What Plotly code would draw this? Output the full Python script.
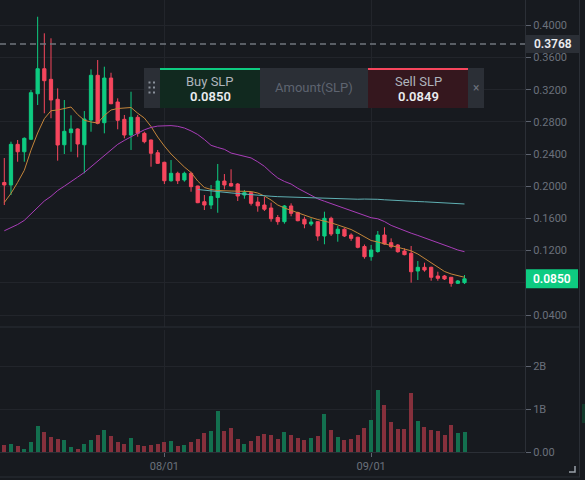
import pandas as pd
import plotly.graph_objects as go

# ---------------- data ----------------
dates = pd.date_range("2021-07-08", periods=70, freq="D")

open_ = [0.2047, 0.2016, 0.2521, 0.2429, 0.2584, 0.3150, 0.3461, 0.3329, 0.3081, 0.2516,
         0.2666, 0.2712, 0.2516, 0.2823, 0.3379, 0.2790, 0.3345, 0.3047, 0.2832, 0.2637,
         0.2857, 0.2658, 0.2575, 0.2417, 0.2298, 0.2069, 0.2161, 0.2078, 0.2161, 0.2003,
         0.1808, 0.1767, 0.1860, 0.2065, 0.2034, 0.2028, 0.1891, 0.1920, 0.1804, 0.1767,
         0.1730, 0.1612, 0.1560, 0.1755, 0.1674, 0.1589, 0.1531, 0.1560, 0.1382, 0.1602,
         0.1413, 0.1466, 0.1394, 0.1366, 0.1251, 0.1125, 0.1189, 0.1394, 0.1299, 0.1270,
         0.1195, 0.1167, 0.0947, 0.0993, 0.0993, 0.0885, 0.0885, 0.0869, 0.0794, 0.0802]
high = [0.2351, 0.2554, 0.2575, 0.2608, 0.3196, 0.4107, 0.3901, 0.3839, 0.3217, 0.3072,
        0.2882, 0.2720, 0.2935, 0.3453, 0.3569, 0.3486, 0.3411, 0.3093, 0.2886, 0.3175,
        0.2886, 0.2678, 0.2580, 0.2451, 0.2305, 0.2326, 0.2181, 0.2181, 0.2181, 0.2008,
        0.1891, 0.2016, 0.2277, 0.2152, 0.2211, 0.2041, 0.1954, 0.1925, 0.1867, 0.1867,
        0.1796, 0.1643, 0.1767, 0.1788, 0.1684, 0.1622, 0.1602, 0.1565, 0.1684, 0.1622,
        0.1506, 0.1478, 0.1415, 0.1373, 0.1276, 0.1270, 0.1444, 0.1490, 0.1353, 0.1282,
        0.1229, 0.1258, 0.1071, 0.1050, 0.1000, 0.0938, 0.0897, 0.0872, 0.0835, 0.0897]
low = [0.1767, 0.1891, 0.2305, 0.2305, 0.2575, 0.3010, 0.2907, 0.2845, 0.2318, 0.2401,
       0.2429, 0.2360, 0.2161, 0.2678, 0.2770, 0.2658, 0.3020, 0.2708, 0.2596, 0.2451,
       0.2616, 0.2534, 0.2243, 0.2277, 0.2028, 0.2057, 0.2028, 0.2057, 0.1932, 0.1790,
       0.1705, 0.1717, 0.1671, 0.1962, 0.1995, 0.1817, 0.1845, 0.1761, 0.1684, 0.1693,
       0.1560, 0.1522, 0.1535, 0.1627, 0.1565, 0.1478, 0.1506, 0.1323, 0.1279, 0.1382,
       0.1311, 0.1369, 0.1322, 0.1229, 0.1100, 0.1075, 0.1174, 0.1274, 0.1229, 0.1174,
       0.1142, 0.0802, 0.0835, 0.0938, 0.0826, 0.0826, 0.0835, 0.0752, 0.0785, 0.0785]
close = [0.2016, 0.2521, 0.2429, 0.2596, 0.3163, 0.3461, 0.3312, 0.3072, 0.2513, 0.2683,
         0.2712, 0.2525, 0.2836, 0.3379, 0.2782, 0.3345, 0.3026, 0.2820, 0.2637, 0.2857,
         0.2658, 0.2554, 0.2410, 0.2285, 0.2069, 0.2161, 0.2069, 0.2161, 0.1995, 0.1796,
         0.1767, 0.1873, 0.2065, 0.2016, 0.2003, 0.1879, 0.1920, 0.1788, 0.1757, 0.1715,
         0.1597, 0.1560, 0.1755, 0.1664, 0.1572, 0.1531, 0.1556, 0.1382, 0.1602, 0.1407,
         0.1466, 0.1382, 0.1353, 0.1241, 0.1125, 0.1208, 0.1394, 0.1282, 0.1249, 0.1187,
         0.1150, 0.0938, 0.0993, 0.0959, 0.0869, 0.0856, 0.0848, 0.0794, 0.0823, 0.0850]
volume_b = [0.17, 0.186, 0.13, 0.077, 0.233, 0.61, 0.456, 0.34, 0.293, 0.286,
            0.107, 0.077, 0.193, 0.286, 0.387, 0.519, 0.372, 0.24, 0.193, 0.333,
            0.154, 0.147, 0.17, 0.177, 0.24, 0.263, 0.147, 0.17, 0.24, 0.31,
            0.433, 0.50, 0.945, 0.495, 0.55, 0.293, 0.193, 0.247, 0.38, 0.41,
            0.387, 0.30, 0.468, 0.393, 0.336, 0.286, 0.326, 0.38, 0.89, 0.52,
            0.35, 0.27, 0.31, 0.387, 0.565, 0.744, 1.433, 1.084, 0.698, 0.542,
            0.526, 1.379, 0.72, 0.572, 0.502, 0.488, 0.402, 0.635, 0.442, 0.465]
ma7 = [0.1799, 0.1911, 0.2048, 0.2198, 0.2448, 0.2662, 0.2840, 0.2939, 0.2948, 0.2966,
       0.2985, 0.2892, 0.2820, 0.2799, 0.2786, 0.2879, 0.2948, 0.2966, 0.2969, 0.2979,
       0.2908, 0.2848, 0.2743, 0.2612, 0.2500, 0.2401, 0.2320, 0.2239, 0.2171, 0.2065,
       0.1985, 0.1960, 0.1947, 0.1941, 0.1941, 0.1939, 0.1937, 0.1935, 0.1916, 0.1879,
       0.1829, 0.1767, 0.1730, 0.1699, 0.1668, 0.1637, 0.1612, 0.1587, 0.1568, 0.1546,
       0.1519, 0.1494, 0.1463, 0.1419, 0.1369, 0.1326, 0.1307, 0.1286, 0.1266, 0.1245,
       0.1227, 0.1198, 0.1158, 0.1102, 0.1046, 0.0993, 0.0941, 0.0910, 0.0890, 0.0869]
ma25 = [0.1447, 0.1484, 0.1525, 0.1576, 0.1655, 0.1739, 0.1817, 0.1875, 0.1947, 0.2001,
        0.2053, 0.2114, 0.2172, 0.2242, 0.2314, 0.2388, 0.2459, 0.2521, 0.2570, 0.2610,
        0.2659, 0.2702, 0.2731, 0.2748, 0.2750, 0.2754, 0.2745, 0.2724, 0.2688, 0.2643,
        0.2581, 0.2509, 0.2482, 0.2459, 0.2413, 0.2395, 0.2370, 0.2352, 0.2304, 0.2248,
        0.2171, 0.2103, 0.2060, 0.2028, 0.1975, 0.1929, 0.1885, 0.1844, 0.1814, 0.1785,
        0.1760, 0.1732, 0.1700, 0.1665, 0.1639, 0.1609, 0.1596, 0.1561, 0.1514, 0.1480,
        0.1447, 0.1417, 0.1389, 0.1361, 0.1331, 0.1301, 0.1270, 0.1239, 0.1208, 0.1187]
ma99_start = 29
ma99 = [0.1960, 0.1950, 0.1940, 0.1932, 0.1925, 0.1917, 0.1910, 0.1902, 0.1894, 0.1888,
        0.1882, 0.1876, 0.1871, 0.1868, 0.1865, 0.1862, 0.1858, 0.1854, 0.1850, 0.1846,
        0.1842, 0.1839, 0.1838, 0.1838, 0.1839, 0.1841, 0.1842, 0.1838, 0.1832, 0.1826,
        0.1820, 0.1816, 0.1813, 0.1810, 0.1807, 0.1803, 0.1798, 0.1794, 0.1790, 0.1785,
        0.1780]

price_ticks = [0.04, 0.08, 0.12, 0.16, 0.20, 0.24, 0.28, 0.32, 0.36, 0.40]
price_ticklabels = ["0.0400", "", "0.1200", "0.1600", "0.2000", "0.2400", "0.2800",
                    "0.3200", "0.3600", "0.4000"]   # 0.0800 sits under the last-price tag
vol_ticks = [0, 1, 2]
vol_ticklabels = ["0.00", "1B", "2B"]
date_ticks = ["2021-08-01", "2021-09-01"]
date_ticklabels = ["08/01", "09/01"]
last_price = 0.0850
marker_price = 0.3768
buy_label, buy_price = "Buy SLP", "0.0850"
sell_label, sell_price = "Sell SLP", "0.0849"
amount_label = "Amount(SLP)"

# ---------------- style ----------------
BG = "#171a1f"
GRID = "#22252b"
BORDER = "#2b2f36"
TXT = "#6b717c"
UP = "#0ecb81"
DOWN = "#f6465d"
UP_VOL = "#13704f"
DOWN_VOL = "#86303c"
FONT = "Roboto"

PW, PH = 525, 452          # plot area size in px
def X(px):
    return px / PW
def Y(py):
    return (PH - py) / PH

price_range = [0.0251, 0.4315]
ppx = (price_range[1] - price_range[0]) / 327.0   # price per pixel

day = pd.Timedelta(days=1)
x_range = [dates[0] - 0.645 * day, dates[0] + 78.07 * day]

fig = go.Figure()

vol_colors = [UP_VOL if c >= o else DOWN_VOL for o, c in zip(open_, close)]
fig.add_trace(go.Bar(x=dates, y=volume_b, marker=dict(color=vol_colors, line=dict(width=0)),
                     width=0.6 * 86400000, xaxis="x", yaxis="y2", hoverinfo="skip"))

fig.add_trace(go.Candlestick(
    x=dates, open=open_, high=high, low=low, close=close,
    increasing=dict(line=dict(color=UP, width=1), fillcolor=UP),
    decreasing=dict(line=dict(color=DOWN, width=1), fillcolor=DOWN),
    whiskerwidth=0, xaxis="x", yaxis="y", hoverinfo="skip"))

fig.add_trace(go.Scatter(x=dates, y=ma7, mode="lines", line=dict(color="#c4853a", width=1),
                         xaxis="x", yaxis="y", hoverinfo="skip"))
fig.add_trace(go.Scatter(x=dates, y=ma25, mode="lines", line=dict(color="#a93db8", width=1),
                         xaxis="x", yaxis="y", hoverinfo="skip"))
fig.add_trace(go.Scatter(x=dates[ma99_start:], y=ma99, mode="lines",
                         line=dict(color="#5fb0b3", width=1),
                         xaxis="x", yaxis="y", hoverinfo="skip"))

shapes = []
annotations = []

# panel separators / borders
shapes += [
    dict(type="line", xref="paper", yref="paper", x0=X(0), x1=X(579), y0=Y(327), y1=Y(327),
         line=dict(color=BORDER, width=1), layer="above"),
    dict(type="line", xref="paper", yref="paper", x0=X(0), x1=X(580), y0=Y(477), y1=Y(477),
         line=dict(color=BORDER, width=1), layer="above"),
    dict(type="line", xref="paper", yref="paper", x0=X(579.5), x1=X(579.5), y0=Y(0), y1=Y(477),
         line=dict(color=BORDER, width=1), layer="above"),
    dict(type="line", xref="paper", yref="paper", x0=X(525.5), x1=X(525.5), y0=Y(0), y1=Y(452),
         line=dict(color=BORDER, width=1), layer="above"),
    dict(type="rect", xref="paper", yref="paper", x0=X(582), x1=X(586), y0=Y(423), y1=Y(404),
         fillcolor="#123a2c", line=dict(width=0), layer="above"),
    dict(type="path", xref="paper", yref="paper",
         path=f"M {X(569)},{Y(472)} L {X(575)},{Y(472)} L {X(575)},{Y(466)}",
         line=dict(color="#9aa1ab", width=1.5), layer="above"),
]

# dashed marker line + label
shapes.append(dict(type="line", xref="paper", yref="y", x0=0, x1=1, y0=marker_price, y1=marker_price,
                   line=dict(color="#70757e", width=1.5, dash="6px,4px"), layer="above"))
shapes.append(dict(type="rect", xref="paper", yref="y", x0=X(526), x1=X(579),
                   y0=marker_price - 9 * ppx, y1=marker_price + 9 * ppx,
                   fillcolor="#2b2f36", line=dict(width=0), layer="above"))
annotations.append(dict(xref="paper", yref="y", x=X(552.5), y=marker_price, text=f"{marker_price:.4f}",
                        xanchor="center", yanchor="middle", showarrow=False,
                        font=dict(family=FONT, size=12, color="#eaecef", weight=600)))

# current price label
shapes.append(dict(type="rect", xref="paper", yref="y", x0=X(526), x1=X(578),
                   y0=last_price - 9.5 * ppx, y1=last_price + 9.5 * ppx,
                   fillcolor=UP, line=dict(width=0), layer="above"))
annotations.append(dict(xref="paper", yref="y", x=X(552), y=last_price, text=f"{last_price:.4f}",
                        xanchor="center", yanchor="middle", showarrow=False,
                        font=dict(family=FONT, size=12, color="#ffffff", weight=600)))

# order widget
def box(x0, x1, y0, y1, color):
    return dict(type="rect", xref="paper", yref="paper", x0=X(x0), x1=X(x1), y0=Y(y1), y1=Y(y0),
                fillcolor=color, line=dict(width=0), layer="above")

shapes += [
    box(144, 160, 68, 108, "#2b2f36"),
    box(160, 260, 68, 108, "#11291f"),
    box(160, 260, 68, 70, UP),
    box(260, 368, 68, 108, "#2b2f36"),
    box(368, 468, 68, 108, "#35171e"),
    box(368, 468, 68, 70, DOWN),
    box(468, 484, 68, 108, "#2b2f36"),
]
for gx in (149.5, 154):
    for gy in (82.5, 87.5, 92.5):
        shapes.append(box(gx - 1, gx + 1, gy - 1, gy + 1, "#8a919b"))

def txt(px, py, s, size, color, weight=400):
    annotations.append(dict(xref="paper", yref="paper", x=X(px), y=Y(py), text=s, showarrow=False,
                            xanchor="center", yanchor="middle",
                            font=dict(family=FONT, size=size, color=color, weight=weight)))

txt(210, 81, buy_label, 13, "#aeb4bc")
txt(210, 97, buy_price, 13, "#eaecef", 600)
txt(314, 88, amount_label, 13, "#5e6470")
txt(418, 81, sell_label, 13, "#aeb4bc")
txt(418, 97, sell_price, 13, "#eaecef", 600)
txt(476, 88, "×", 12, "#6b717c")

fig.update_layout(
    width=585, height=480,
    margin=dict(l=0, r=60, t=0, b=28),
    paper_bgcolor=BG, plot_bgcolor=BG,
    showlegend=False,
    font=dict(family=FONT, size=11, color=TXT),
    bargap=0,
    shapes=shapes,
    annotations=annotations,
    xaxis=dict(
        type="date", range=x_range, domain=[0, 1], anchor="y2",
        tickvals=date_ticks, ticktext=date_ticklabels,
        ticks="outside", ticklen=4, tickcolor="#5e6470", tickwidth=1,
        showgrid=True, gridcolor=GRID, gridwidth=1,
        showline=True, linecolor=BORDER, linewidth=1,
        zeroline=False, rangeslider=dict(visible=False),
        tickfont=dict(family=FONT, size=11, color=TXT), fixedrange=True,
    ),
    yaxis=dict(
        domain=[Y(327), 1], range=price_range, side="right", anchor="x",
        tickvals=price_ticks, ticktext=price_ticklabels,
        ticks="outside", ticklen=5, tickcolor="#5e6470", tickwidth=1,
        showgrid=True, gridcolor=GRID, gridwidth=1,
        showline=False, zeroline=False,
        tickfont=dict(family=FONT, size=11, color=TXT), fixedrange=True,
    ),
    yaxis2=dict(
        domain=[0, Y(330)], range=[0, 122 / 43.0], side="right", anchor="x",
        tickvals=vol_ticks, ticktext=vol_ticklabels,
        ticks="outside", ticklen=5, tickcolor="#5e6470", tickwidth=1,
        showgrid=True, gridcolor=GRID, gridwidth=1,
        showline=False, zeroline=False,
        tickfont=dict(family=FONT, size=11, color=TXT), fixedrange=True,
    ),
)

fig.write_html(
    "out.html",
    config={"displayModeBar": False},
    post_script="document.body.style.margin='0';document.body.style.padding='0';"
                "document.body.style.overflow='hidden';"
                "document.body.style.background='" + BG + "';",
)
